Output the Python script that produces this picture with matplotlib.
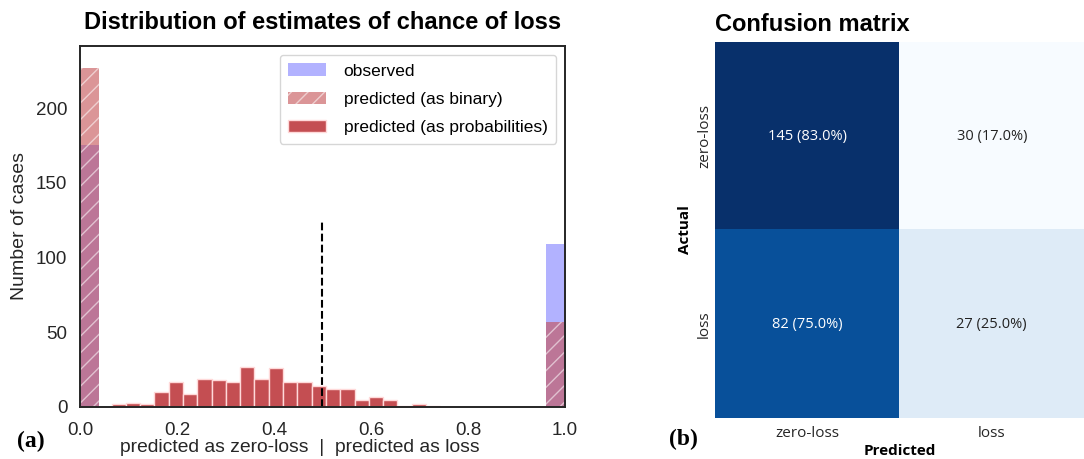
import matplotlib.pyplot as plt
import numpy as np

# counts at the two ends (bin 0.00-0.04 and 0.96-1.00)
end_bins = [0.0, 0.96]
end_width = 0.04
observed = [175, 109]
predicted_binary = [227, 57]

# histogram of predicted probabilities
prob_lo, prob_hi = 0.065, 0.743
prob_counts = [2, 3, 2, 10, 17, 9, 19, 18, 17, 27, 19, 26, 17, 17, 14, 12, 12,
               5, 7, 5, 1, 2, 1]

# confusion matrix
cm_counts = np.array([[145, 30], [82, 27]])
cm_pct = np.array([[83.0, 17.0], [75.0, 25.0]])
cm_labels = ['zero-loss', 'loss']

red = '#c44e52'
dark = '#262626'
plt.rcParams['font.family'] = ['Liberation Sans', 'DejaVu Sans']

fig = plt.figure(figsize=(10.84, 4.59), dpi=100)

# ---- (a) histogram ----
ax = fig.add_axes([0.0738, 0.1133, 0.4474, 0.7865])
h_obs = ax.bar(end_bins, observed, width=end_width, align='edge',
               color='blue', alpha=0.3, linewidth=0, label='observed')
h_bin = ax.bar(end_bins, predicted_binary, width=end_width, align='edge',
               color=(0.769, 0.306, 0.322, 0.6), edgecolor=(1, 1, 1, 0.55),
               linewidth=0, hatch='//', label='predicted (as binary)')
edges = np.linspace(prob_lo, prob_hi, len(prob_counts) + 1)
_, _, h_prob = ax.hist(edges[:-1], bins=edges, weights=prob_counts,
                       color=red, edgecolor=(1, 0.85, 0.85), linewidth=1,
                       label='predicted (as probabilities)')
ax.vlines(0.5, 0, 125, colors='black', linestyles='--', linewidth=1.5)

ax.set_xlim(0, 1)
ax.set_ylim(0, 241.5)
ax.set_xticks([0.0, 0.2, 0.4, 0.6, 0.8, 1.0])
ax.set_yticks([0, 50, 100, 150, 200])
ax.tick_params(axis='x', length=0, labelsize=13.5, labelcolor=dark, pad=11)
ax.tick_params(axis='y', length=0, labelsize=13.5, labelcolor=dark, pad=9)
for s in ax.spines.values():
    s.set_color(dark)
    s.set_linewidth(1.4)
ax.set_xlabel('predicted as zero-loss  |  predicted as loss', fontsize=13.9,
              color=dark)
ax.xaxis.set_label_coords(0.454, -0.09)
ax.set_ylabel('Number of cases', fontsize=14, color=dark, labelpad=6)
ax.set_title('Distribution of estimates of chance of loss', fontsize=17,
             fontweight='bold', pad=12)
leg = ax.legend([h_obs, h_bin, h_prob],
                ['observed', 'predicted (as binary)',
                 'predicted (as probabilities)'],
                loc='upper right', fontsize=12.5, frameon=True,
                borderpad=0.5, labelspacing=0.75, handlelength=2.2,
                handletextpad=1.0)
leg.get_frame().set_edgecolor('#cccccc')
fig.text(0.016, 0.025, '(a)', fontsize=17, fontweight='bold',
         family='Liberation Serif')

# ---- (b) confusion matrix ----
bx = fig.add_axes([0.6596, 0.0893, 0.3404, 0.8192])
bx.imshow(cm_pct, cmap='Blues', vmin=cm_pct.min(), vmax=cm_pct.max(),
          aspect='auto')
for i in range(2):
    for j in range(2):
        frac = (cm_pct[i, j] - cm_pct.min()) / (cm_pct.max() - cm_pct.min())
        bx.text(j, i, f'{cm_counts[i, j]} ({cm_pct[i, j]:.1f}%)',
                ha='center', va='center', fontsize=10.5, family='Open Sans',
                color='white' if frac > 0.5 else '#222222')
bx.set_xticks([0, 1])
bx.set_xticklabels(cm_labels, fontsize=11, family='Open Sans', color=dark)
bx.set_yticks([0, 1])
bx.set_yticklabels(cm_labels, fontsize=11, family='Open Sans', color=dark,
                   rotation=90, va='center')
bx.tick_params(axis='x', length=0, pad=6)
bx.tick_params(axis='y', length=0, pad=2)
for s in bx.spines.values():
    s.set_visible(False)
bx.set_xlabel('Predicted', fontsize=11, fontweight='bold',
              family='Open Sans', labelpad=2)
bx.set_ylabel('Actual', fontsize=11, fontweight='bold', family='Open Sans',
              labelpad=4)
bx.set_title('Confusion matrix', fontsize=17, fontweight='bold', loc='left',
             pad=8)
fig.text(0.617, 0.03, '(b)', fontsize=17, fontweight='bold',
         family='Liberation Serif')

fig.savefig('out.png', dpi=100)
